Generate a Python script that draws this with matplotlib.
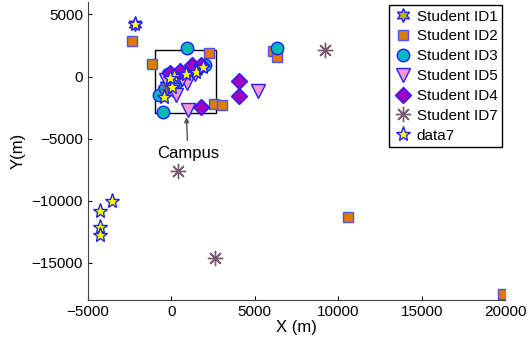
import matplotlib.pyplot as plt
from matplotlib.patches import Rectangle

plt.rcParams["font.family"] = ["Liberation Sans", "DejaVu Sans"]
plt.rcParams["font.size"] = 11

# student location points (metres)
id1_x = [-2175, -300, 300, 1200, 1800]
id1_y = [4194, -700, 200, 500, 700]

id2_x = [-2356, -1154, 2272, 2572, 3053, 6118, 6358, 10565, 19880, -500, 700]
id2_y = [2823, 1048, 1935, -2177, -2258, 2016, 1613, -11290, -17500, -1200, 200]

id3_x = [950, -493, -733, 2032, 6358, -200, 300, 1500, -400]
id3_y = [2258, -2823, -1450, 968, 2258, 200, -500, 600, -900]

id5_x = [1010, 5217, 950, 109, 649, -300, 1400, 300]
id5_y = [-2661, -1129, -484, -1048, -161, -300, 200, -1500]

id4_x = [1791, 4075, 4075, 1250, 529, -100, 1800]
id4_y = [-2419, -323, -1532, 968, 484, 300, 900]

id7_x = [9183, 409, 2632, -300]
id7_y = [2097, -7580, -14597, -1000]

data7_x = [-3558, -4279, -4279, -4279, -2175, -433, 48, 168, 889, 1490, 1911, -72]
data7_y = [-10000, -10806, -12097, -12742, 4194, -1613, -806, 81, 242, 403, 806, -81]

campus = (-1000, -2900, 3700, 5000)  # x, y, width, height

fig = plt.figure(figsize=(5.29, 3.39), dpi=100)
ax = fig.add_axes([0.166, 0.115, 0.789, 0.879])

edge = "#2020ff"
ax.plot(id1_x, id1_y, marker=(6, 1, 0), ls="none", ms=10, mfc="#b8b800",
        mec=edge, label="Student ID1")
ax.plot(id2_x, id2_y, "s", ms=7, mfc="#e07b00", mec="#5050ff", label="Student ID2")
ax.plot(id3_x, id3_y, "o", ms=9, mfc="#00b8b8", mec=edge, label="Student ID3")
ax.plot(id5_x, id5_y, "v", ms=10, mfc="#f59ad0", mec=edge, label="Student ID5")
ax.plot(id4_x, id4_y, "D", ms=8, mfc="#a000c0", mec=edge, label="Student ID4")
ax.plot(id7_x, id7_y, marker=(8, 2, 0), ls="none", ms=11, mew=1.0,
        color="#7a5a70", label="Student ID7")
ax.plot(data7_x, data7_y, "*", ms=11, mfc="#ffff00", mec=edge, mew=1.0,
        label="data7")

ax.add_patch(Rectangle((campus[0], campus[1]), campus[2], campus[3],
                       fill=False, ec="black", lw=1))
ax.annotate("Campus", xy=(900, -3050), xytext=(1000, -6200),
            ha="center", va="center", fontsize=12,
            arrowprops=dict(arrowstyle="-|>", color="#555555", lw=1,
                            mutation_scale=7))

ax.set_xlim(-5000, 20000)
ax.set_ylim(-18000, 6000)
ax.set_xticks([-5000, 0, 5000, 10000, 15000, 20000])
ax.set_yticks([-15000, -10000, -5000, 0, 5000])
ax.tick_params(direction="in", length=3, labelsize=11)
for s in ["top", "right"]:
    ax.spines[s].set_visible(False)
for s in ["left", "bottom"]:
    ax.spines[s].set_color("#444444")
ax.set_xlabel("X (m)", fontsize=12, labelpad=1)
ax.set_ylabel("Y(m)", fontsize=12)

leg = ax.legend(loc="upper right", fontsize=11, fancybox=False,
                edgecolor="black", framealpha=1, handlelength=1.2,
                handletextpad=0.3, borderpad=0.3, labelspacing=0.38,
                borderaxespad=0.2)
leg.get_frame().set_linewidth(1)

fig.savefig("out.png", dpi=100)
